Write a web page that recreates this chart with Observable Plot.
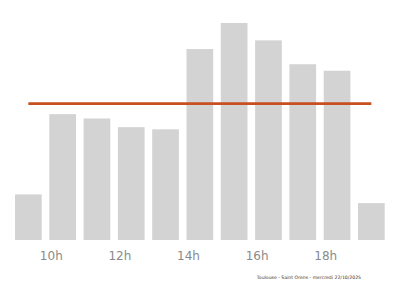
<!DOCTYPE html>
<html>
<head>
<meta charset="utf-8">
<script src="https://cdn.jsdelivr.net/npm/d3@7"></script>
<script src="https://cdn.jsdelivr.net/npm/@observablehq/plot@0.6"></script>
<style>
  html, body { margin: 0; padding: 0; background: #fff; }
  #chart { width: 400px; }
  .cap { font-family: "DejaVu Sans", sans-serif; font-size: 4.6px; color: #333; text-align: right; padding-right: 39px; margin-top: 5px; }
</style>
</head>
<body>
<div id="chart"></div>
<script>
const hours = [9, 10, 11, 12, 13, 14, 15, 16, 17, 18, 19];
const values = [21, 58, 56, 52, 51, 88, 100, 92, 81, 78, 17];
const tickHours = [10, 12, 14, 16, 18];
const caption = "Toulouse - Saint Orens - mercredi 22/10/2025";

const data = hours.map((h, i) => ({h, v: values[i]}));
const mean = d3.mean(values);

const plot = Plot.plot({
  width: 400,
  height: 270,
  marginLeft: 11.2,
  marginRight: 11.5,
  marginTop: 23,
  marginBottom: 30,
  style: {fontFamily: "DejaVu Sans, sans-serif", background: "#fff"},
  x: {domain: [9, 20], axis: null},
  y: {domain: [0, 100], axis: null},
  marks: [
    Plot.rectY(data, {x1: "h", x2: d => d.h + 1, y: "v", fill: "#d3d3d3", insetLeft: 3.8, insetRight: 3.8}),
    Plot.ruleY([mean], {x1: 9.5, x2: 19.5, stroke: "#c94f1f", strokeWidth: 2.6}),
    Plot.axisX(tickHours, {tickSize: 0, tickPadding: 11, dx: 5.3, fontSize: 12, fill: "#8a8a8a", label: null, tickFormat: d => d + "h"})
  ]
});
document.getElementById("chart").appendChild(plot);
const c = document.createElement("div");
c.className = "cap";
c.textContent = caption;
document.getElementById("chart").appendChild(c);
</script>
</body>
</html>
